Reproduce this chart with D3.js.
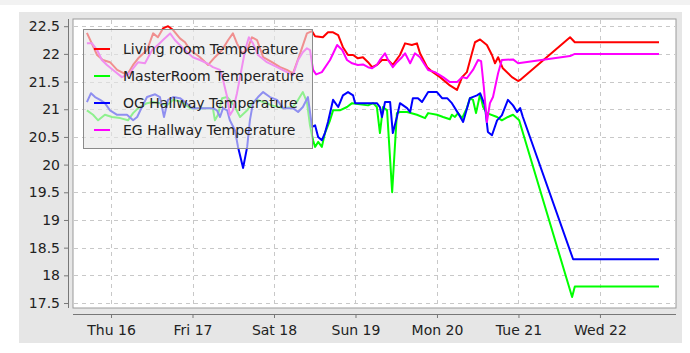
<!DOCTYPE html>
<html lang="en">
  <head>
    <meta charset="utf-8" />
    <title>Temperatures</title>
    <script src="https://cdnjs.cloudflare.com/ajax/libs/d3/7.8.5/d3.min.js"></script>
    <style>
      body { margin: 0; background: #fff; }
      text { font-family: "DejaVu Sans", sans-serif; }
    </style>
  </head>
  <body>
    <script>
      // hours after Thu 16, 00:00 and temperature
      const startDate = Date.UTC(2020, 0, 16);

      const livingRoom = [
        [-7.1, 22.38], [-4.1, 21.98], [-2.4, 21.89], [-0.3, 21.85], [1.8, 21.71], [4.7, 21.62],
        [6.5, 21.80], [8.0, 21.92], [10.6, 22.07], [12.4, 22.37], [13.8, 22.30], [15.3, 22.46],
        [16.8, 22.50], [18.3, 22.43], [20.3, 22.28], [21.8, 22.21], [23.3, 22.07], [26.2, 21.94],
        [28.6, 21.80], [30.6, 21.94], [32.7, 22.07], [34.5, 22.25], [35.9, 22.37], [37.1, 22.19],
        [38.6, 22.01], [40.1, 22.07], [41.5, 22.30], [43.0, 22.25], [44.8, 21.94], [47.4, 21.85],
        [49.8, 21.76], [51.8, 21.71], [53.6, 21.65], [55.7, 22.01], [57.7, 22.37], [59.2, 22.41],
        [60.1, 22.32], [62.4, 22.30], [63.9, 22.39], [65.4, 22.39], [66.9, 22.34], [68.3, 22.12],
        [69.8, 21.98], [71.3, 21.98], [72.7, 21.92], [74.2, 21.94], [75.7, 21.85], [76.9, 21.76],
        [78.3, 21.80], [79.8, 21.89], [81.6, 21.89], [83.0, 21.80], [85.1, 21.98], [86.6, 22.19],
        [88.6, 22.16], [90.1, 22.19], [91.0, 22.01], [93.1, 21.76], [94.8, 21.67], [96.9, 21.58],
        [99.8, 21.43], [101.9, 21.35], [103.4, 21.58], [104.8, 21.67], [106.3, 22.01], [107.2, 22.21],
        [108.7, 22.26], [110.7, 22.16], [112.2, 21.98], [113.1, 21.83], [114.0, 21.94], [115.4, 21.74],
        [118.1, 21.58], [119.9, 21.51], [120.5, 21.53], [135.2, 22.30], [136.6, 22.21], [161.4, 22.21]
      ];

      const masterRoom = [
        [-7.1, 20.98], [-5.3, 20.90], [-3.8, 20.80], [-1.8, 20.90], [0.3, 20.86], [2.7, 20.84],
        [5.0, 20.80], [6.5, 20.93], [8.0, 21.02], [10.6, 21.11], [12.4, 21.13], [14.4, 21.11],
        [16.5, 21.07], [18.3, 21.17], [20.9, 21.13], [23.3, 21.02], [30.0, 21.02], [30.6, 20.80],
        [31.5, 20.90], [32.7, 21.20], [34.2, 21.22], [35.0, 21.17], [36.5, 21.04], [38.0, 20.86],
        [40.1, 20.98], [41.5, 21.11], [43.0, 21.17], [44.8, 21.13], [47.4, 21.07], [50.7, 21.02],
        [53.6, 21.04], [55.1, 21.17], [56.5, 21.31], [57.7, 21.13], [58.6, 20.71], [59.5, 20.44],
        [60.1, 20.32], [61.0, 20.41], [62.1, 20.32], [63.0, 20.57], [64.5, 20.80], [65.4, 20.98],
        [67.4, 20.98], [69.5, 21.04], [71.0, 21.11], [75.7, 21.07], [77.2, 21.11], [78.3, 21.04],
        [79.2, 20.57], [80.1, 21.04], [81.3, 20.98], [82.8, 19.50], [84.2, 20.93], [85.1, 20.95],
        [87.2, 20.95], [90.1, 20.90], [92.5, 20.84], [93.4, 20.93], [96.0, 20.90], [97.8, 20.86],
        [99.8, 20.82], [100.4, 20.90], [101.3, 20.86], [102.2, 20.93], [103.4, 20.84], [104.8, 21.02],
        [105.7, 21.20], [106.6, 21.17], [107.5, 20.93], [108.7, 21.27], [109.6, 21.04], [110.7, 20.93],
        [113.7, 20.86], [115.1, 20.80], [116.9, 20.86], [118.4, 20.90], [120.2, 20.80], [135.8, 17.61],
        [136.6, 17.80], [161.4, 17.80]
      ];

      const ogHallway = [
        [-7.1, 21.13], [-5.9, 21.29], [-4.7, 21.22], [-3.2, 21.17], [-1.8, 21.11], [-0.3, 20.98],
        [1.8, 20.90], [4.7, 20.90], [6.5, 20.80], [7.7, 20.86], [9.1, 21.04], [10.6, 21.22],
        [13.0, 21.27], [14.4, 21.22], [15.6, 20.86], [16.8, 21.17], [18.3, 21.22], [20.3, 21.20],
        [21.8, 21.13], [23.9, 21.02], [30.0, 21.02], [31.2, 20.98], [32.1, 20.86], [33.0, 21.02],
        [34.2, 20.98], [35.0, 20.80], [36.5, 20.62], [37.4, 20.32], [38.9, 19.94], [40.1, 20.32],
        [40.9, 20.80], [41.8, 21.11], [43.3, 21.22], [44.8, 21.31], [46.8, 21.22], [48.9, 21.17],
        [50.7, 21.02], [53.6, 21.02], [55.1, 20.95], [56.5, 21.04], [58.0, 21.22], [59.2, 20.68],
        [60.1, 20.71], [61.0, 20.50], [62.1, 20.44], [63.0, 20.57], [63.9, 20.77], [65.4, 21.17],
        [66.9, 21.04], [68.3, 21.25], [69.8, 21.31], [71.3, 21.25], [71.9, 21.11], [78.3, 21.11],
        [79.2, 21.04], [79.8, 20.86], [80.7, 21.13], [82.2, 21.13], [83.0, 20.57], [84.2, 20.86],
        [85.1, 21.11], [87.2, 21.02], [88.1, 20.95], [88.9, 21.20], [90.4, 21.20], [91.6, 21.13],
        [93.4, 21.31], [96.0, 21.31], [97.5, 21.20], [99.0, 21.20], [100.4, 21.11], [102.2, 20.93],
        [103.7, 20.77], [105.7, 21.20], [107.8, 21.25], [108.7, 21.29], [110.1, 21.07], [111.0, 20.59],
        [112.2, 20.53], [113.7, 20.80], [115.1, 20.89], [116.9, 21.17], [118.4, 21.07], [119.6, 20.95],
        [120.5, 21.02], [121.3, 20.86], [136.1, 18.29], [161.4, 18.29]
      ];

      const egHallway = [
        [-7.1, 22.19], [-5.6, 22.19], [-4.1, 22.07], [-2.7, 21.89], [-1.2, 21.80], [0.6, 21.71],
        [3.2, 21.58], [5.6, 21.65], [6.5, 21.74], [8.0, 21.85], [10.0, 21.83], [12.1, 22.07],
        [13.8, 22.16], [15.3, 22.25], [17.4, 22.37], [18.8, 22.25], [20.9, 22.12], [22.4, 22.03],
        [24.1, 21.94], [26.2, 21.89], [28.3, 21.83], [30.0, 21.76], [32.1, 21.71], [33.0, 21.53],
        [34.2, 21.22], [35.0, 20.89], [35.9, 20.98], [37.1, 21.29], [38.0, 21.58], [39.5, 22.07],
        [40.6, 22.30], [41.8, 22.19], [43.3, 21.98], [45.9, 21.85], [48.9, 21.76], [51.8, 21.67],
        [53.6, 21.62], [55.1, 21.89], [56.5, 22.03], [57.7, 22.10], [58.6, 22.07], [59.5, 21.71],
        [60.4, 21.63], [62.1, 21.67], [64.5, 21.89], [66.6, 22.16], [68.1, 22.07], [69.5, 21.89],
        [71.0, 21.83], [72.7, 21.80], [74.2, 21.81], [75.7, 21.76], [76.9, 21.74], [78.3, 21.80],
        [79.2, 21.89], [80.7, 22.01], [81.6, 21.89], [83.0, 21.76], [84.2, 21.85], [85.7, 21.94],
        [86.6, 22.01], [88.1, 21.83], [89.5, 22.01], [91.0, 21.94], [93.4, 21.71], [95.4, 21.67],
        [97.8, 21.58], [99.8, 21.49], [101.9, 21.49], [103.4, 21.58], [104.8, 21.56], [106.6, 21.71],
        [108.1, 21.89], [109.0, 21.87], [109.8, 21.40], [110.7, 20.77], [111.6, 21.11], [112.5, 21.22],
        [114.0, 21.65], [115.1, 21.89], [118.4, 21.90], [119.9, 21.83], [135.2, 21.96], [136.6, 22.00],
        [161.4, 22.00]
      ];

      const seriesNames = ["Living room Temperature", "MasterRoom Temperature", "OG Hallway Temperature", "EG Hallway Temperature"];
      const seriesColors = ["#ff0000", "#00ff00", "#0000ff", "#ff00ff"];
      const seriesData = [livingRoom, masterRoom, ogHallway, egHallway];
      const yTicks = [17.5, 18, 18.5, 19, 19.5, 20, 20.5, 21, 21.5, 22, 22.5];

      const width = 690;
      const height = 353;
      const plotLeft = 73, plotRight = 676, plotTop = 19, plotBottom = 308;

      const hour = 3600 * 1000;
      const toDate = h => new Date(startDate + h * hour);

      const x = d3.scaleUtc([toDate(-11.2), toDate(166.4)], [plotLeft, plotRight]);
      const y = d3.scaleLinear([17.41, 22.63], [plotBottom, plotTop]);
      const dayTicks = d3.utcDay.range(toDate(0), toDate(150));

      const svg = d3.select("body").append("svg")
        .attr("width", width)
        .attr("height", height)
        .attr("viewBox", [0, 0, width, height]);

      // grey panel
      svg.append("rect")
        .attr("x", 0).attr("y", 0).attr("width", width).attr("height", 5)
        .attr("fill", "#f2f2f2");
      svg.append("rect")
        .attr("x", 19).attr("y", 12).attr("width", 663).attr("height", 331)
        .attr("fill", "#e6e6e6");

      // plot area
      svg.append("rect")
        .attr("x", plotLeft).attr("y", plotTop)
        .attr("width", plotRight - plotLeft).attr("height", plotBottom - plotTop)
        .attr("fill", "#fff")
        .attr("stroke", "#9a9a9a");

      // grid
      const grid = svg.append("g")
        .attr("stroke", "#c8c8c8")
        .attr("stroke-dasharray", "4,4");
      grid.selectAll(".hg").data(yTicks).join("line")
        .attr("x1", plotLeft + 1).attr("x2", plotRight - 1)
        .attr("y1", d => Math.round(y(d)) + 0.5).attr("y2", d => Math.round(y(d)) + 0.5);
      grid.selectAll(".vg").data(dayTicks).join("line")
        .attr("y1", plotTop + 1).attr("y2", plotBottom - 1)
        .attr("x1", d => Math.round(x(d)) + 0.5).attr("x2", d => Math.round(x(d)) + 0.5);

      // y axis
      svg.append("g")
        .attr("transform", "translate(68,0)")
        .call(d3.axisLeft(y).tickValues(yTicks).tickFormat(d => String(d)).tickSize(4).tickSizeOuter(0))
        .call(g => g.select(".domain").attr("stroke", "#777").attr("d", `M0.5,${plotTop}V${plotBottom}`))
        .call(g => g.selectAll(".tick line").attr("stroke", "#777"))
        .call(g => g.selectAll("text").attr("x", -8).attr("font-size", 14).attr("fill", "#222"
        ).attr("font-family", "DejaVu Sans, sans-serif"));

      // x axis
      svg.append("g")
        .attr("transform", "translate(0,314)")
        .call(d3.axisBottom(x).tickValues(dayTicks).tickFormat(d3.utcFormat("%a %d")).tickSize(4).tickSizeOuter(0))
        .call(g => g.select(".domain").attr("stroke", "#777").attr("d", `M${plotLeft},0.5H${plotRight}`))
        .call(g => g.selectAll(".tick line").attr("stroke", "#777"))
        .call(g => g.selectAll("text").attr("y", 11).attr("font-size", 14).attr("fill", "#222")
          .attr("font-family", "DejaVu Sans, sans-serif"));

      // lines
      svg.append("clipPath").attr("id", "clip")
        .append("rect")
        .attr("x", plotLeft).attr("y", plotTop)
        .attr("width", plotRight - plotLeft).attr("height", plotBottom - plotTop);

      const line = d3.line()
        .x(d => x(toDate(d[0])))
        .y(d => y(d[1]));

      svg.append("g")
        .attr("clip-path", "url(#clip)")
        .selectAll("path")
        .data(seriesData)
        .join("path")
        .attr("fill", "none")
        .attr("stroke", (d, i) => seriesColors[i])
        .attr("stroke-width", 2)
        .attr("stroke-linejoin", "round")
        .attr("d", line);

      // legend
      const legend = svg.append("g").attr("transform", "translate(83,29)");
      legend.append("rect")
        .attr("x", 0.5).attr("y", 0.5).attr("width", 229).attr("height", 119)
        .attr("fill", "#e6e6e6").attr("fill-opacity", 0.62)
        .attr("stroke", "#8a8a8a");
      const items = legend.selectAll(".item").data(seriesNames).join("g")
        .attr("transform", (d, i) => `translate(0,${20 + i * 27})`);
      items.append("line")
        .attr("x1", 11).attr("x2", 27)
        .attr("stroke", (d, i) => seriesColors[i])
        .attr("stroke-width", 2);
      items.append("text")
        .attr("x", 40).attr("y", 5)
        .attr("font-size", 14)
        .attr("fill", "#222")
        .text(d => d);
    </script>
  </body>
</html>
